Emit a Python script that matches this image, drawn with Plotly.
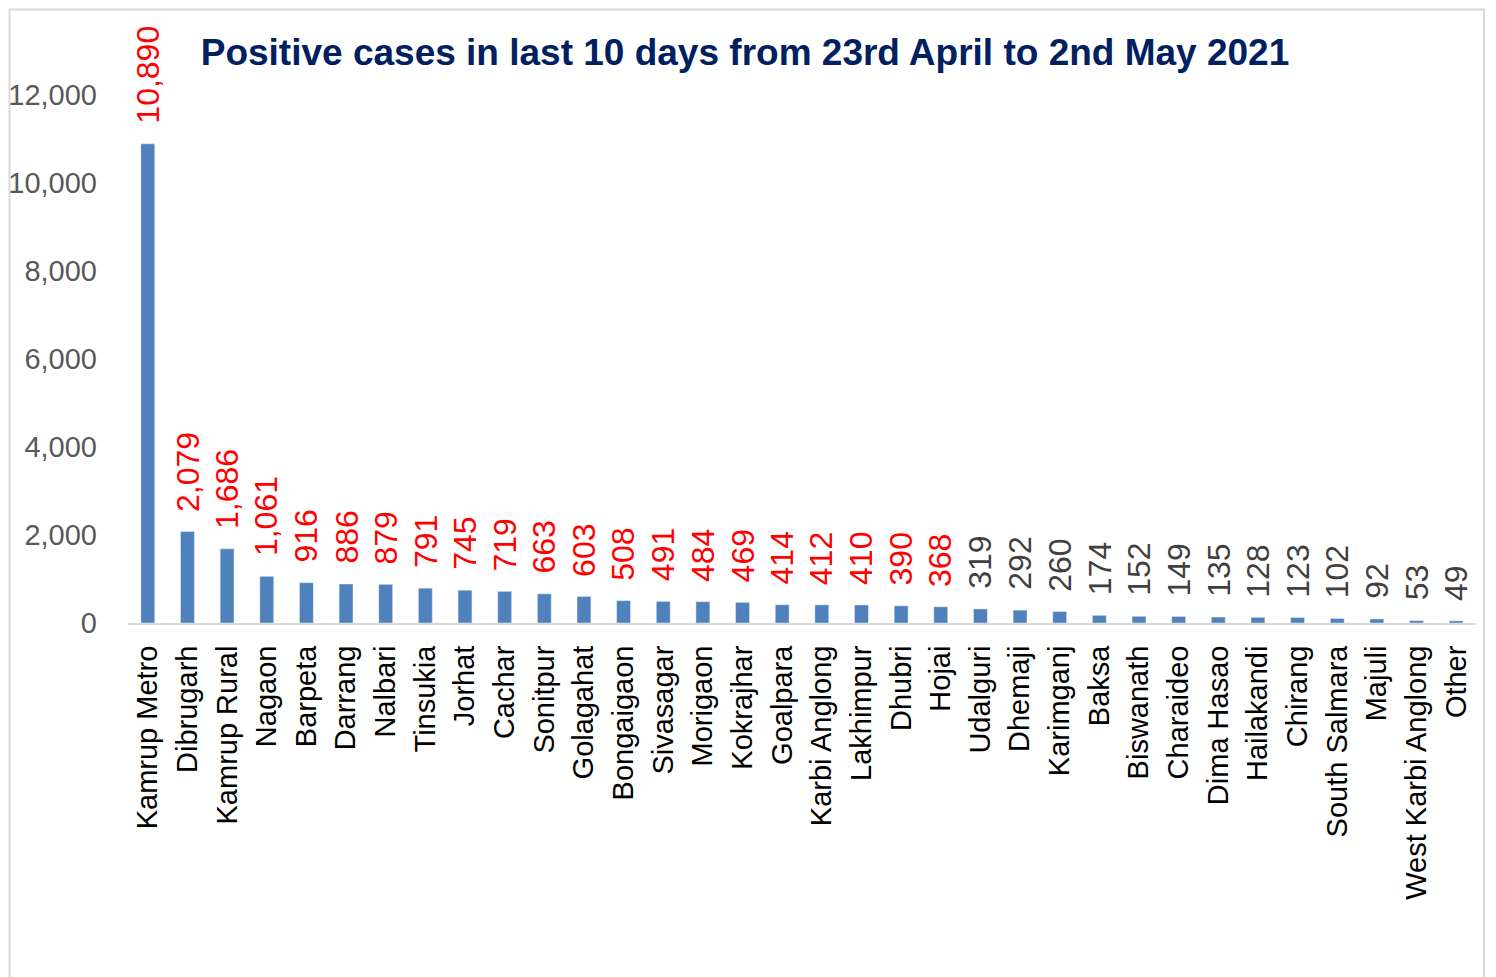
import plotly.graph_objects as go

districts = ["Kamrup Metro", "Dibrugarh", "Kamrup Rural", "Nagaon", "Barpeta", "Darrang",
             "Nalbari", "Tinsukia", "Jorhat", "Cachar", "Sonitpur", "Golagahat",
             "Bongaigaon", "Sivasagar", "Morigaon", "Kokrajhar", "Goalpara", "Karbi Anglong",
             "Lakhimpur", "Dhubri", "Hojai", "Udalguri", "Dhemaji", "Karimganj",
             "Baksa", "Biswanath", "Charaideo", "Dima Hasao", "Hailakandi", "Chirang",
             "South Salmara", "Majuli", "West Karbi Anglong", "Other"]
cases = [10890, 2079, 1686, 1061, 916, 886,
         879, 791, 745, 719, 663, 603,
         508, 491, 484, 469, 414, 412,
         410, 390, 368, 319, 292, 260,
         174, 152, 149, 135, 128, 123,
         102, 92, 53, 49]
y_ticks = [0, 2000, 4000, 6000, 8000, 10000, 12000]

OFF = 8  # page body margin
W, H = 1496 - OFF, 977 - OFF
ML, MR, MT, MB = 120, 20, 87, 354

label_colors = ["#FF0000" if v >= 350 else "#404040" for v in cases]

fig = go.Figure(go.Bar(
    x=districts, y=cases, marker_color="#4F81BD", width=0.35,
    hoverinfo="x+y",
))

for d, v, c in zip(districts, cases, label_colors):
    fig.add_annotation(x=d, y=v, text=f"{v:,}", textangle=-90, showarrow=False,
                       xanchor="center", yanchor="bottom", yshift=18,
                       font=dict(family="Liberation Sans, Arial, sans-serif", size=32, color=c))

pw = W - ML - MR
ph = H - MT - MB
def px_x(p):
    return (p - OFF - ML) / pw
def px_y(p):
    return 1 - (p - OFF - MT) / ph

fig.add_shape(type="rect", xref="paper", yref="paper",
              x0=px_x(OFF + 1.5), x1=px_x(1484), y0=px_y(990), y1=px_y(OFF + 1.5),
              line=dict(color="#D9D9D9", width=2), fillcolor="rgba(0,0,0,0)", layer="below")

fig.update_layout(
    width=W, height=H,
    margin=dict(l=ML, r=MR, t=MT, b=MB, autoexpand=False),
    paper_bgcolor="white", plot_bgcolor="white",
    showlegend=False,
    title=dict(text="<b>Positive cases in last 10 days from 23rd April to 2nd May 2021</b>",
               x=(745 - OFF) / W, xanchor="center", xref="container",
               y=1 - (52 - OFF) / H, yanchor="middle", yref="container",
               font=dict(family="Liberation Sans, Arial, sans-serif", size=37, color="#002060")),
    font=dict(family="Liberation Sans, Arial, sans-serif"),
)
fig.update_xaxes(
    tickangle=-90, tickfont=dict(size=29, color="#000000"),
    showline=True, linecolor="#D9D9D9", linewidth=2, showgrid=False,
    ticks="", ticklabelstandoff=9, range=[-0.5, len(districts) - 0.5],
    automargin=False,
)
fig.update_yaxes(
    range=[0, 12000], tickvals=y_ticks, tickformat=",",
    tickfont=dict(size=29, color="#595959"),
    showgrid=False, zeroline=False, showline=False, ticks="", ticklabelstandoff=30,
    automargin=False,
)

fig.write_html("out.html")
